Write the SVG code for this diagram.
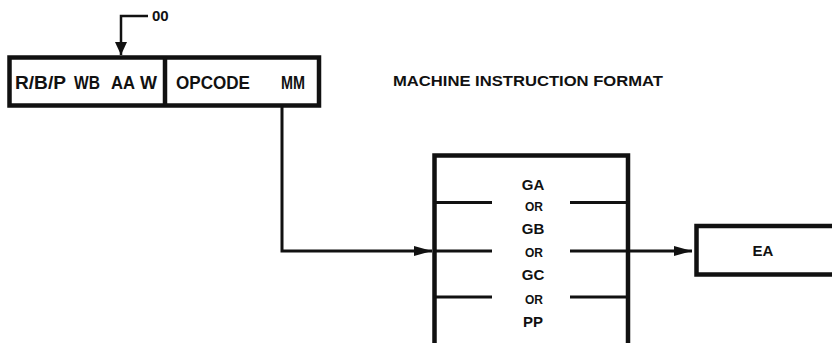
<svg xmlns="http://www.w3.org/2000/svg" width="832" height="343" viewBox="0 0 832 343">
<style>
text{font-family:"Liberation Sans",Arial,Helvetica,sans-serif;font-weight:bold;fill:#111}
.box{fill:none;stroke:#111;stroke-width:4.5}
.ln{fill:none;stroke:#111;stroke-width:3}
.big{font-size:18px}
.md{font-size:15px}
.sm{font-size:12px}
.c{text-anchor:middle}
</style>
<defs>
<marker id="ah" markerWidth="18" markerHeight="10" refX="18" refY="5" orient="auto" markerUnits="userSpaceOnUse">
<path d="M0,0 L18,5 L0,10 Z" fill="#111"/>
</marker>
<marker id="ahs" markerWidth="12" markerHeight="13" refX="13" refY="6" orient="auto" markerUnits="userSpaceOnUse">
<path d="M0,0 L13,6 L0,12 Z" fill="#111"/>
</marker>
</defs>
<g id="instruction-format">
<rect class="box" x="9.5" y="57.5" width="309.5" height="48"/>
<line class="box" x1="165" y1="57.5" x2="165" y2="105.5"/>
<text class="big" x="15" y="88.5" textLength="51" lengthAdjust="spacingAndGlyphs">R/B/P</text>
<text class="big" x="74" y="88.5" textLength="26" lengthAdjust="spacingAndGlyphs">WB</text>
<text class="big" x="111" y="88.5" textLength="24" lengthAdjust="spacingAndGlyphs">AA</text>
<text class="big" x="140" y="88.5" textLength="17" lengthAdjust="spacingAndGlyphs">W</text>
<text class="big" x="176" y="88.5" textLength="74" lengthAdjust="spacingAndGlyphs">OPCODE</text>
<text class="big" x="281" y="88.5" textLength="24" lengthAdjust="spacingAndGlyphs">MM</text>
</g>
<g id="title">
<text class="md" x="393" y="86" textLength="270" lengthAdjust="spacingAndGlyphs">MACHINE INSTRUCTION FORMAT</text>
</g>
<g id="zero-label">
<text class="md" x="152" y="21">00</text>
</g>
<g id="selector">
<path class="box" d="M434.5,350 V155.5 H628 V350"/>
<line class="ln" x1="434.5" y1="202.5" x2="492" y2="202.5"/>
<line class="ln" x1="570" y1="202.5" x2="628" y2="202.5"/>
<line class="ln" x1="434.5" y1="251" x2="492" y2="251"/>
<line class="ln" x1="570" y1="251" x2="628" y2="251"/>
<line class="ln" x1="434.5" y1="297" x2="492" y2="297"/>
<line class="ln" x1="570" y1="297" x2="628" y2="297"/>
<text class="md c" x="533" y="190">GA</text>
<text class="sm c" x="534" y="211">OR</text>
<text class="md c" x="533" y="233.5">GB</text>
<text class="sm c" x="534" y="257">OR</text>
<text class="md c" x="533" y="280">GC</text>
<text class="sm c" x="534" y="303.5">OR</text>
<text class="md c" x="533" y="327">PP</text>
</g>
<g id="ea">
<rect class="box" x="696.5" y="226" width="150" height="48.5"/>
<text class="md c" x="763" y="256">EA</text>
</g>
<g id="connectors">
<path d="M148,16 H121 V55" fill="none" stroke="#111" stroke-width="2.5" marker-end="url(#ahs)"/>
<path class="ln" d="M282,105.5 V251 H432" marker-end="url(#ah)"/>
<path class="ln" d="M628,251 H692" marker-end="url(#ah)"/>
</g>
</svg>
